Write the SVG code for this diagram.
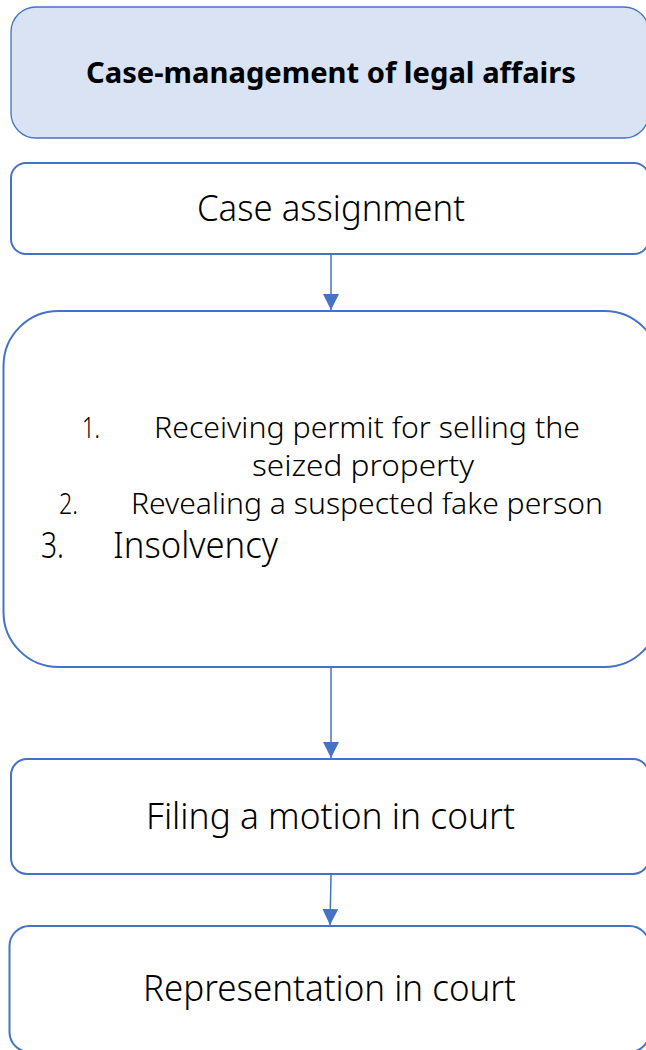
<svg xmlns="http://www.w3.org/2000/svg" width="646" height="1050" viewBox="0 0 646 1050">
<style>
.box{fill:#ffffff;stroke:#4472c4;stroke-width:2}
.hdr{fill:#dae3f3;stroke:#4472c4;stroke-width:1.3}
.t{font-family:"Noto Sans","Liberation Sans",sans-serif;font-weight:300;fill:#000000}
.b{font-family:"Noto Sans","Liberation Sans",sans-serif;font-weight:700;fill:#000000}
.c{stroke:#4472c4;stroke-width:1.5;fill:none}
</style>
<defs>
<marker id="ah" markerWidth="16" markerHeight="16" viewBox="0 0 16 16" refX="16" refY="8" orient="auto" markerUnits="userSpaceOnUse">
<path d="M0,0 L16,8 L0,16 Z" fill="#4472c4"/>
</marker>
</defs>
<g id="n1">
<rect class="hdr" x="11" y="7" width="638" height="131" rx="25"/>
<text class="b" x="86" y="83" font-size="29" textLength="490" lengthAdjust="spacingAndGlyphs">Case-management of legal affairs</text>
</g>
<g id="n2">
<rect class="box" x="11" y="163" width="638" height="91" rx="15"/>
<text class="t" x="197" y="221" font-size="37" textLength="268" lengthAdjust="spacingAndGlyphs">Case assignment</text>
</g>
<g id="n3">
<rect class="box" x="3.5" y="311" width="656" height="356" rx="55"/>
<text class="t" x="82" y="438" font-size="30" textLength="18" lengthAdjust="spacingAndGlyphs">1.</text>
<text class="t" x="154" y="438" font-size="30" textLength="426" lengthAdjust="spacingAndGlyphs">Receiving permit for selling the</text>
<text class="t" x="252" y="476" font-size="30" textLength="222" lengthAdjust="spacingAndGlyphs">seized property</text>
<text class="t" x="59" y="514" font-size="30" textLength="19" lengthAdjust="spacingAndGlyphs">2.</text>
<text class="t" x="131" y="514" font-size="30" textLength="472" lengthAdjust="spacingAndGlyphs">Revealing a suspected fake person</text>
<text class="t" x="41" y="558" font-size="37" textLength="23" lengthAdjust="spacingAndGlyphs">3.</text>
<text class="t" x="113" y="558" font-size="37" textLength="165" lengthAdjust="spacingAndGlyphs">Insolvency</text>
</g>
<g id="n4">
<rect class="box" x="11" y="759" width="638" height="115" rx="16"/>
<text class="t" x="146" y="829" font-size="37" textLength="369" lengthAdjust="spacingAndGlyphs">Filing a motion in court</text>
</g>
<g id="n5">
<rect class="box" x="9.5" y="926" width="640" height="126" rx="20"/>
<text class="t" x="143" y="1001" font-size="37" textLength="373" lengthAdjust="spacingAndGlyphs">Representation in court</text>
</g>
<g id="connectors">
<line class="c" x1="331" y1="255" x2="331" y2="310" marker-end="url(#ah)"/>
<line class="c" x1="331" y1="668" x2="331" y2="758" marker-end="url(#ah)"/>
<line class="c" x1="331" y1="875" x2="330" y2="925" marker-end="url(#ah)"/>
</g>
</svg>
